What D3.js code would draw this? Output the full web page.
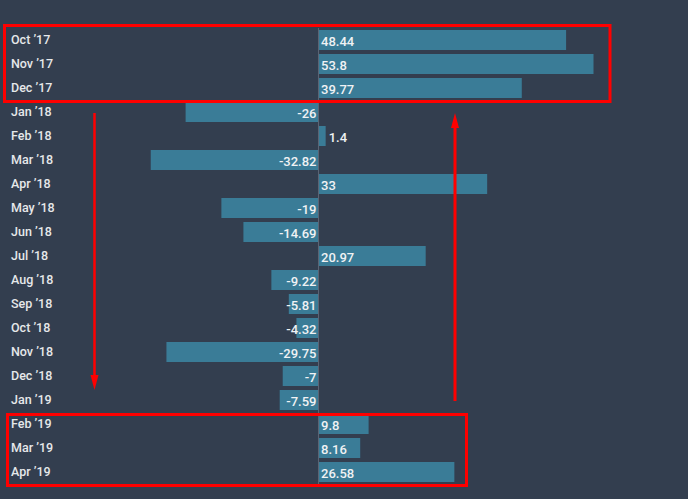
<!DOCTYPE html>
<html><head><meta charset="utf-8">
<script src="https://cdn.jsdelivr.net/npm/d3@7"></script>
<style>
html,body{margin:0;padding:0;background:#333e4f;}
svg{display:block;font-family:Roboto,"Open Sans",sans-serif;}
</style></head>
<body>
<svg id="chart" width="688" height="499"></svg>
<script>
const categories = ["Oct ’17","Nov ’17","Dec ’17","Jan ’18","Feb ’18","Mar ’18","Apr ’18","May ’18","Jun ’18","Jul ’18","Aug ’18","Sep ’18","Oct ’18","Nov ’18","Dec ’18","Jan ’19","Feb ’19","Mar ’19","Apr ’19"];
const values = [48.44,53.8,39.77,-26,1.4,-32.82,33,-19,-14.69,20.97,-9.22,-5.81,-4.32,-29.75,-7,-7.59,9.8,8.16,26.58];
const valueLabels = ["48.44","53.8","39.77","-26","1.4","-32.82","33","-19","-14.69","20.97","-9.22","-5.81","-4.32","-29.75","-7","-7.59","9.8","8.16","26.58"];

const svg = d3.select("#chart");
svg.append("rect").attr("width",688).attr("height",499).attr("fill","#333e4f");

const x = d3.scaleLinear().domain([0,53.8]).range([318.5,593.5]);
const y = d3.scaleBand().domain(categories).range([28,484]).paddingInner(4/24).paddingOuter(2/24);

// zero axis line
svg.append("line").attr("x1",x(0)).attr("x2",x(0)).attr("y1",28).attr("y2",484)
  .attr("stroke","#5b6474").attr("stroke-width",1);

const barColor = "#3a7c97";
svg.selectAll("rect.bar").data(values).enter().append("rect").attr("class","bar")
  .attr("x",d=>d>=0?x(0)+0.5:x(d))
  .attr("width",d=>d>=0?Math.abs(x(d)-x(0))-0.5:Math.abs(x(d)-x(0))-0.5)
  .attr("y",(d,i)=>y(categories[i]))
  .attr("height",y.bandwidth())
  .attr("fill",barColor);

// category labels
svg.selectAll("text.cat").data(categories).enter().append("text").attr("class","cat")
  .attr("x",11).attr("y",d=>y(d)+y.bandwidth()/2)
  .attr("dy","0.35em").attr("fill","#e6e8ea").attr("font-size",12.5).attr("font-weight",500)
  .text(d=>d);

// value labels
svg.selectAll("text.val").data(values).enter().append("text").attr("class","val")
  .attr("x",d=>{
    if(d<0) return x(0)-2;
    const w = x(d)-x(0);
    return w<20 ? x(d)+3 : x(0)+2.5;
  })
  .attr("text-anchor",d=>d<0?"end":"start")
  .attr("y",(d,i)=>y(categories[i])+y.bandwidth()/2+1)
  .attr("dy","0.35em").attr("fill","#f0f2f4").attr("font-size",13).attr("font-weight",500)
  .text((d,i)=>valueLabels[i]);

// red annotation boxes
const red = "#ff0000";
svg.append("rect").attr("x",4.5).attr("y",25.5).attr("width",605.5).attr("height",76)
  .attr("fill","none").attr("stroke",red).attr("stroke-width",3);
svg.append("rect").attr("x",7.5).attr("y",414.5).attr("width",459).attr("height",71)
  .attr("fill","none").attr("stroke",red).attr("stroke-width",3);

// arrows
svg.append("line").attr("x1",94.5).attr("x2",94.5).attr("y1",113).attr("y2",378)
  .attr("stroke",red).attr("stroke-width",2.5);
svg.append("path").attr("d","M90.5,375 L98.5,375 L94.5,390 Z").attr("fill",red);

svg.append("line").attr("x1",455).attr("x2",455).attr("y1",401).attr("y2",125)
  .attr("stroke",red).attr("stroke-width",3);
svg.append("path").attr("d","M451,128 L459,128 L455,113 Z").attr("fill",red);
</script>
</body></html>
